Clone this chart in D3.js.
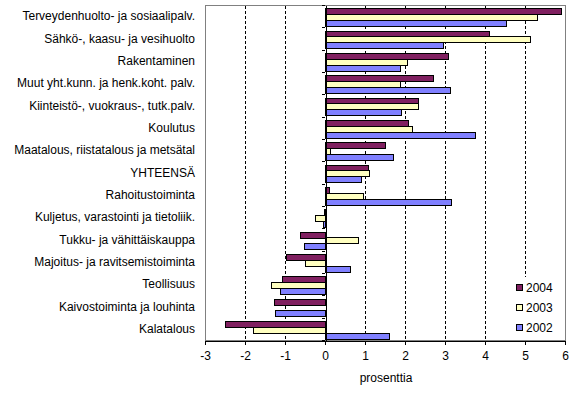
<!DOCTYPE html>
<meta charset="utf-8">
<head>
<title>prosenttia</title>
<style>
  body { margin: 0; background: #fff; }
  svg { display: block; font-family: Arial, "Liberation Sans", sans-serif; }
  .axis path, .axis line { fill: none; stroke: #000; shape-rendering: crispEdges; }
  .axis text { font-size: 12px; fill: #000; }
</style>
</head>
<body>
<script src="https://cdn.jsdelivr.net/npm/d3@7"></script>
<script>

// categories, top to bottom
var categories = [
  "Terveydenhuolto- ja sosiaalipalv.",
  "Sähkö-, kaasu- ja vesihuolto",
  "Rakentaminen",
  "Muut yht.kunn. ja henk.koht. palv.",
  "Kiinteistö-, vuokraus-, tutk.palv.",
  "Koulutus",
  "Maatalous, riistatalous ja metsätal",
  "YHTEENSÄ",
  "Rahoitustoiminta",
  "Kuljetus, varastointi ja tietoliik.",
  "Tukku- ja vähittäiskauppa",
  "Majoitus- ja ravitsemistoiminta",
  "Teollisuus",
  "Kaivostoiminta ja louhinta",
  "Kalatalous"
];

var series = ["2004", "2003", "2002"];

var v2004 = [5.89, 4.09, 3.08, 2.69, 2.33, 2.08, 1.49, 1.07, 0.09, -0.03, -0.62, -0.98, -1.08, -1.27, -2.49];
var v2003 = [5.31, 5.13, 2.06, 1.88, 2.33, 2.18, 0.13, 1.09, 0.96, -0.24, 0.82, -0.49, -1.34, 0, -1.79];
var v2002 = [4.52, 2.96, 1.88, 3.12, 1.91, 3.76, 1.69, 0.91, 3.14, -0.04, -0.52, 0.63, -1.12, -1.24, 1.61];

var xTicks = [-3, -2, -1, 0, 1, 2, 3, 4, 5, 6];

var colors = {"2004": "#802060", "2003": "#ffffc0", "2002": "#8080ff"};
var values = {"2004": v2004, "2003": v2003, "2002": v2002};

var width = 577, height = 394;
var plot = {left: 205, right: 565, top: 5, bottom: 340};

var svg = d3.select("body").append("svg")
    .attr("width", width)
    .attr("height", height);

var x = d3.scaleLinear().domain([-3, 6]).range([plot.left, plot.right]);

var y = d3.scaleBand().domain(categories).range([plot.top, plot.bottom]).padding(0);

var ys = d3.scaleBand().domain(series).range([3.3, 3.3 + 17.4]);

// plot area border
svg.append("rect")
    .attr("x", plot.left + 0.5)
    .attr("y", plot.top + 0.5)
    .attr("width", plot.right - plot.left)
    .attr("height", plot.bottom - plot.top)
    .attr("fill", "none")
    .attr("stroke", "#808080")
    .style("shape-rendering", "crispEdges");

// dashed gridlines
svg.append("g").selectAll("line")
    .data(xTicks.filter(function(d) { return d !== 0 && d !== -3 && d !== 6; }))
  .enter().append("line")
    .attr("x1", function(d) { return Math.round(x(d)) + 0.5; })
    .attr("x2", function(d) { return Math.round(x(d)) + 0.5; })
    .attr("y1", plot.top + 1)
    .attr("y2", plot.bottom)
    .attr("stroke", "#000")
    .attr("stroke-dasharray", "3,2")
    .style("shape-rendering", "crispEdges");

// bars
series.forEach(function(s) {
  svg.append("g").selectAll("rect")
      .data(values[s])
    .enter().append("rect")
      .attr("x", function(d) { return Math.round(x(Math.min(0, d))) + 0.5; })
      .attr("y", function(d, i) { return Math.round(y(categories[i]) + ys(s)) + 0.5; })
      .attr("width", function(d) { return Math.abs(Math.round(x(d)) - Math.round(x(0))); })
      .attr("height", Math.round(ys.bandwidth()))
      .attr("fill", colors[s])
      .attr("stroke", function(d) { return d === 0 ? "none" : "#000"; })
      .style("shape-rendering", "crispEdges");
});

// category axis at zero
var yAxis = d3.axisLeft(y).tickSize(0).tickFormat("");
svg.append("g")
    .attr("class", "axis")
    .attr("transform", "translate(" + (Math.round(x(0)) + 0.5) + ",0)")
    .call(yAxis);

svg.append("g").selectAll("line")
    .data(d3.range(categories.length + 1))
  .enter().append("line")
    .attr("x1", Math.round(x(0)) - 3)
    .attr("x2", Math.round(x(0)))
    .attr("y1", function(i) { return Math.round(plot.top + i * y.step()) + 0.5; })
    .attr("y2", function(i) { return Math.round(plot.top + i * y.step()) + 0.5; })
    .attr("stroke", "#000")
    .style("shape-rendering", "crispEdges");

// category labels
svg.append("g").selectAll("text")
    .data(categories)
  .enter().append("text")
    .attr("x", 195)
    .attr("y", function(d) { return y(d) + y.bandwidth() / 2; })
    .attr("dy", "0.35em")
    .attr("text-anchor", "end")
    .style("font-size", "12px")
    .text(function(d) { return d; });

// value axis (plain hyphen for negatives)
var xAxis = d3.axisBottom(x).tickValues(xTicks).tickSize(4).tickPadding(7).tickSizeOuter(0)
    .tickFormat(function(d) { return String(d); });
svg.append("g")
    .attr("class", "axis")
    .attr("transform", "translate(0," + (plot.bottom + 0.5) + ")")
    .call(xAxis);

svg.append("text")
    .attr("x", 386)
    .attr("y", 382)
    .attr("text-anchor", "middle")
    .style("font-size", "12px")
    .text("prosenttia");

// legend
var legend = svg.append("g");
legend.append("rect")
    .attr("x", 511).attr("y", 277).attr("width", 53).attr("height", 62)
    .attr("fill", "#fff");

var items = legend.selectAll("g.item")
    .data(series)
  .enter().append("g")
    .attr("transform", function(d, i) { return "translate(0," + (288 + i * 20) + ")"; });

items.append("rect")
    .attr("x", 516.5).attr("y", -3.5).attr("width", 6).attr("height", 6)
    .attr("fill", function(d) { return colors[d]; })
    .attr("stroke", "#000")
    .style("shape-rendering", "crispEdges");

items.append("text")
    .attr("x", 526)
    .attr("dy", "0.35em")
    .style("font-size", "12px")
    .text(function(d) { return d; });

</script>
</body>
